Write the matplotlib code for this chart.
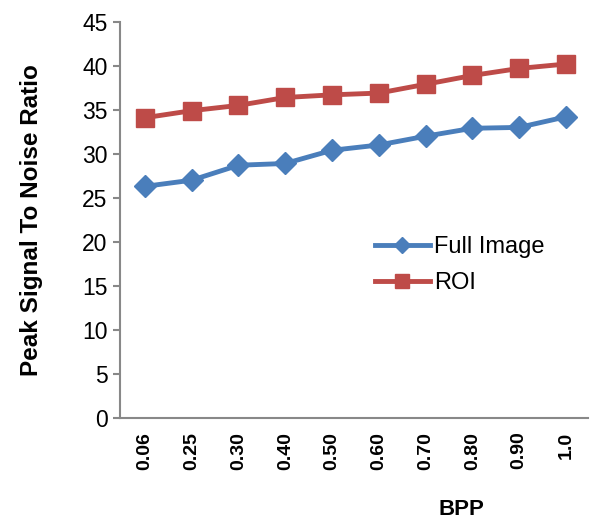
import matplotlib
matplotlib.use('Agg')
import matplotlib.pyplot as plt

bpp = ['0.06', '0.25', '0.30', '0.40', '0.50', '0.60', '0.70', '0.80', '0.90', '1.0']
full_image = [26.3, 27.0, 28.7, 28.9, 30.4, 31.0, 32.0, 32.9, 33.0, 34.2]
roi = [34.1, 34.9, 35.5, 36.4, 36.7, 36.9, 37.9, 38.9, 39.7, 40.2]

plt.rcParams['font.family'] = ['Liberation Sans', 'DejaVu Sans']

fig = plt.figure(figsize=(5.92, 5.19), dpi=100)
ax = fig.add_axes([0.203, 0.195, 0.79, 0.763])

x = range(len(bpp))
ax.plot(x, full_image, color='#4A7EBB', lw=3.5, marker='D', ms=11, label='Full Image')
ax.plot(x, roi, color='#BE4B48', lw=3.5, marker='s', ms=13, label='ROI')

ax.set_ylim(0, 45)
ax.set_yticks(range(0, 46, 5))
ax.set_xlim(-0.53, 9.47)
ax.set_xticks(list(x))
ax.set_xticklabels(bpp, rotation=90, fontweight='bold', fontsize=14)
ax.tick_params(axis='x', length=0, pad=10)
ax.tick_params(axis='y', labelsize=16.5, length=5, color='#888888', width=1.5, pad=4)

for side in ['top', 'right']:
    ax.spines[side].set_visible(False)
for side in ['left', 'bottom']:
    ax.spines[side].set_color('#888888')
    ax.spines[side].set_linewidth(1.5)

ax.set_ylabel('Peak Signal To Noise Ratio', fontsize=17.5, fontweight='bold')
ax.yaxis.set_label_coords(-0.165, 0.5)
ax.set_xlabel('BPP', fontsize=16, fontweight='bold')
ax.xaxis.set_label_coords(0.73, -0.205)

ax.legend(loc='center left', bbox_to_anchor=(0.5, 0.385), frameon=False,
          fontsize=17, handlelength=2.3, labelspacing=0.6, handletextpad=0.2,
          markerscale=0.75)

plt.savefig('out.png')
plt.close()
